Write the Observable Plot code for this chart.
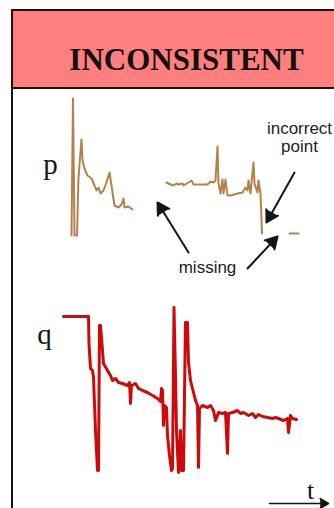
<!DOCTYPE html>
<html><head><meta charset="utf-8">
<script src="https://cdn.jsdelivr.net/npm/d3@7"></script>
<script src="https://cdn.jsdelivr.net/npm/@observablehq/plot@0.6"></script>
<style>
html,body{margin:0;padding:0;background:#fff;width:334px;height:508px;overflow:hidden;}
#charts{position:absolute;left:0;top:89px;width:334px;}
#charts svg{display:block;}
#frame{position:absolute;left:11px;top:9px;width:400px;height:520px;border-left:2px solid #1b1511;box-sizing:border-box;z-index:2;pointer-events:none;}
#header{position:absolute;left:11px;top:9px;width:349px;height:80px;box-sizing:border-box;background:#ff7e7e;border:2px solid #1b1511;border-right:none;z-index:1;}
#title{position:absolute;left:0;width:100%;top:33px;text-align:center;font:bold 31px/31px "Liberation Serif",serif;color:#111;}
</style>
</head><body>
<div id="header"><div id="title">INCONSISTENT</div></div>
<div id="frame"></div>
<div id="charts"></div>
<script>
// ---- data (t = time, readings in arbitrary units) ----
const pTime  = [11,12.5,14,16.5,18,21,22,24,27,31,34,36,38,40,43,46,49,51,52,54,58,61,63,64,68,72,
                89,
                106,110,113,116,118,122,123,128,131,133,137,147,150,153,155,157,158,160,162,163,165,167,170,177,182,185,187,188,190,193,194,197,198,200,201.5,
                215,
                229,238];
const pValue = [0,137,0,0,58,96,75,67,60,57,50,45,48,42,45,53,63,50,43,30,28,31,37,28,29,26,
                null,
                53,51,50,52,51,52,50,53,55,51,51,51,54,53,55,89,52,42,56,42,56,40,40,42,43,48,45,55,42,73,52,43,55,42,2,
                null,
                2,2];

const qTime  = [3,28,28.5,30,32,33,35,37,38,39,40,42,43,47,50,52,55,58,62,67,69,70,71,75,78,82,87,92,97,100,101,102,103,104,106,107,109,111,112,113.5,115,116,118,120,121,123,124,125,127,128,130,132,135,137,138,139,142,147,150,153,155,158,162,165,167,168,172,177,180,183,188,192,195,198,202,207,212,215,218,223,227,228,230,232,236];
const qValue = [156,156,129,104,102,95,42,2,2,147,147,122,109,102,97,92,94,90,89,87,90,69,87,89,84,82,80,77,74,71,84,82,47,67,65,37,17,2,4,165,97,42,0,42,2,2,77,150,150,110,92,84,72,67,5,64,67,65,67,62,52,60,59,60,19,59,60,62,59,60,57,59,55,58,56,55,54,55,54,52,54,40,57,54,53];

const seriesName   = ["p", "q"];
const seriesTime   = [-10, -16];
const seriesValue  = [71, 138];

const noteText  = ["missing", "incorrect\npoint"];
const noteTime  = [147, 239];
const noteValue = [-32.5, 114];

const arrowFromTime  = [128, 187, 234];
const arrowFromValue = [-17, -33, 63];
const arrowToTime    = [97, 217, 206];
const arrowToValue   = [33, -1, 13];

const axisName = "t";
const axisArrowTime = [209, 268];
const axisArrowValue = -31;
const axisNameTime = 250;
const axisNameValue = -17.7;

const pColor = "#b5814a";
const qColor = "#cc0a0a";
const ink = "#151515";

// ---- build tables ----
const pData = pTime.map((t, i) => ({t, v: pValue[i]}));
const qData = qTime.map((t, i) => ({t, v: qValue[i]}));
const arrows = arrowFromTime.map((t, i) => ({t1: t, v1: arrowFromValue[i], t2: arrowToTime[i], v2: arrowToValue[i]}));
const notes = noteText.map((s, i) => ({s, t: noteTime[i], v: noteValue[i]}));

const common = {
  width: 334, marginLeft: 60, marginRight: 0,
  x: {domain: [0, 274], axis: null},
  style: {background: "transparent", overflow: "visible"}
};

const pPlot = Plot.plot({
  ...common,
  height: 200, marginTop: 9, marginBottom: 54,
  y: {domain: [0, 137], axis: null},
  marks: [
    Plot.line(pData, {x: "t", y: "v", stroke: pColor, strokeWidth: 2, strokeLinejoin: "round"}),
    Plot.text([{s: seriesName[0], t: seriesTime[0], v: seriesValue[0]}], {x: "t", y: "v", text: "s", fontFamily: "Liberation Serif, serif", fontSize: 29, fill: ink}),
    Plot.text(notes.slice(0, 1), {x: "t", y: "v", text: "s", fontFamily: "Liberation Sans, Arial, sans-serif", fontSize: 17, fill: "#222"}),
    Plot.text(notes.slice(1), {x: "t", y: "v", text: "s", lineAnchor: "top", lineHeight: 1.06, fontFamily: "Liberation Sans, Arial, sans-serif", fontSize: 17, fill: "#222"}),
    Plot.arrow(arrows, {x1: "t1", y1: "v1", x2: "t2", y2: "v2", stroke: ink, fill: ink, strokeWidth: 2, headLength: 10})
  ]
});

const qPlot = Plot.plot({
  ...common,
  height: 219, marginTop: 16, marginBottom: 36,
  y: {domain: [0, 167], axis: null},
  marks: [
    Plot.line(qData, {x: "t", y: "v", stroke: qColor, strokeWidth: 3, strokeLinejoin: "round"}),
    Plot.text([{s: seriesName[1], t: seriesTime[1], v: seriesValue[1]}], {x: "t", y: "v", text: "s", fontFamily: "Liberation Serif, serif", fontSize: 29, fill: ink}),
    Plot.arrow([{t1: axisArrowTime[0], t2: axisArrowTime[1], v: axisArrowValue}], {x1: "t1", x2: "t2", y1: "v", y2: "v", stroke: ink, fill: ink, strokeWidth: 1.6, headLength: 9}),
    Plot.text([{s: axisName, t: axisNameTime, v: axisNameValue}], {x: "t", y: "v", text: "s", fontFamily: "Liberation Serif, serif", fontSize: 26, fill: ink})
  ]
});

document.getElementById("charts").append(pPlot, qPlot);
</script>
</body></html>
